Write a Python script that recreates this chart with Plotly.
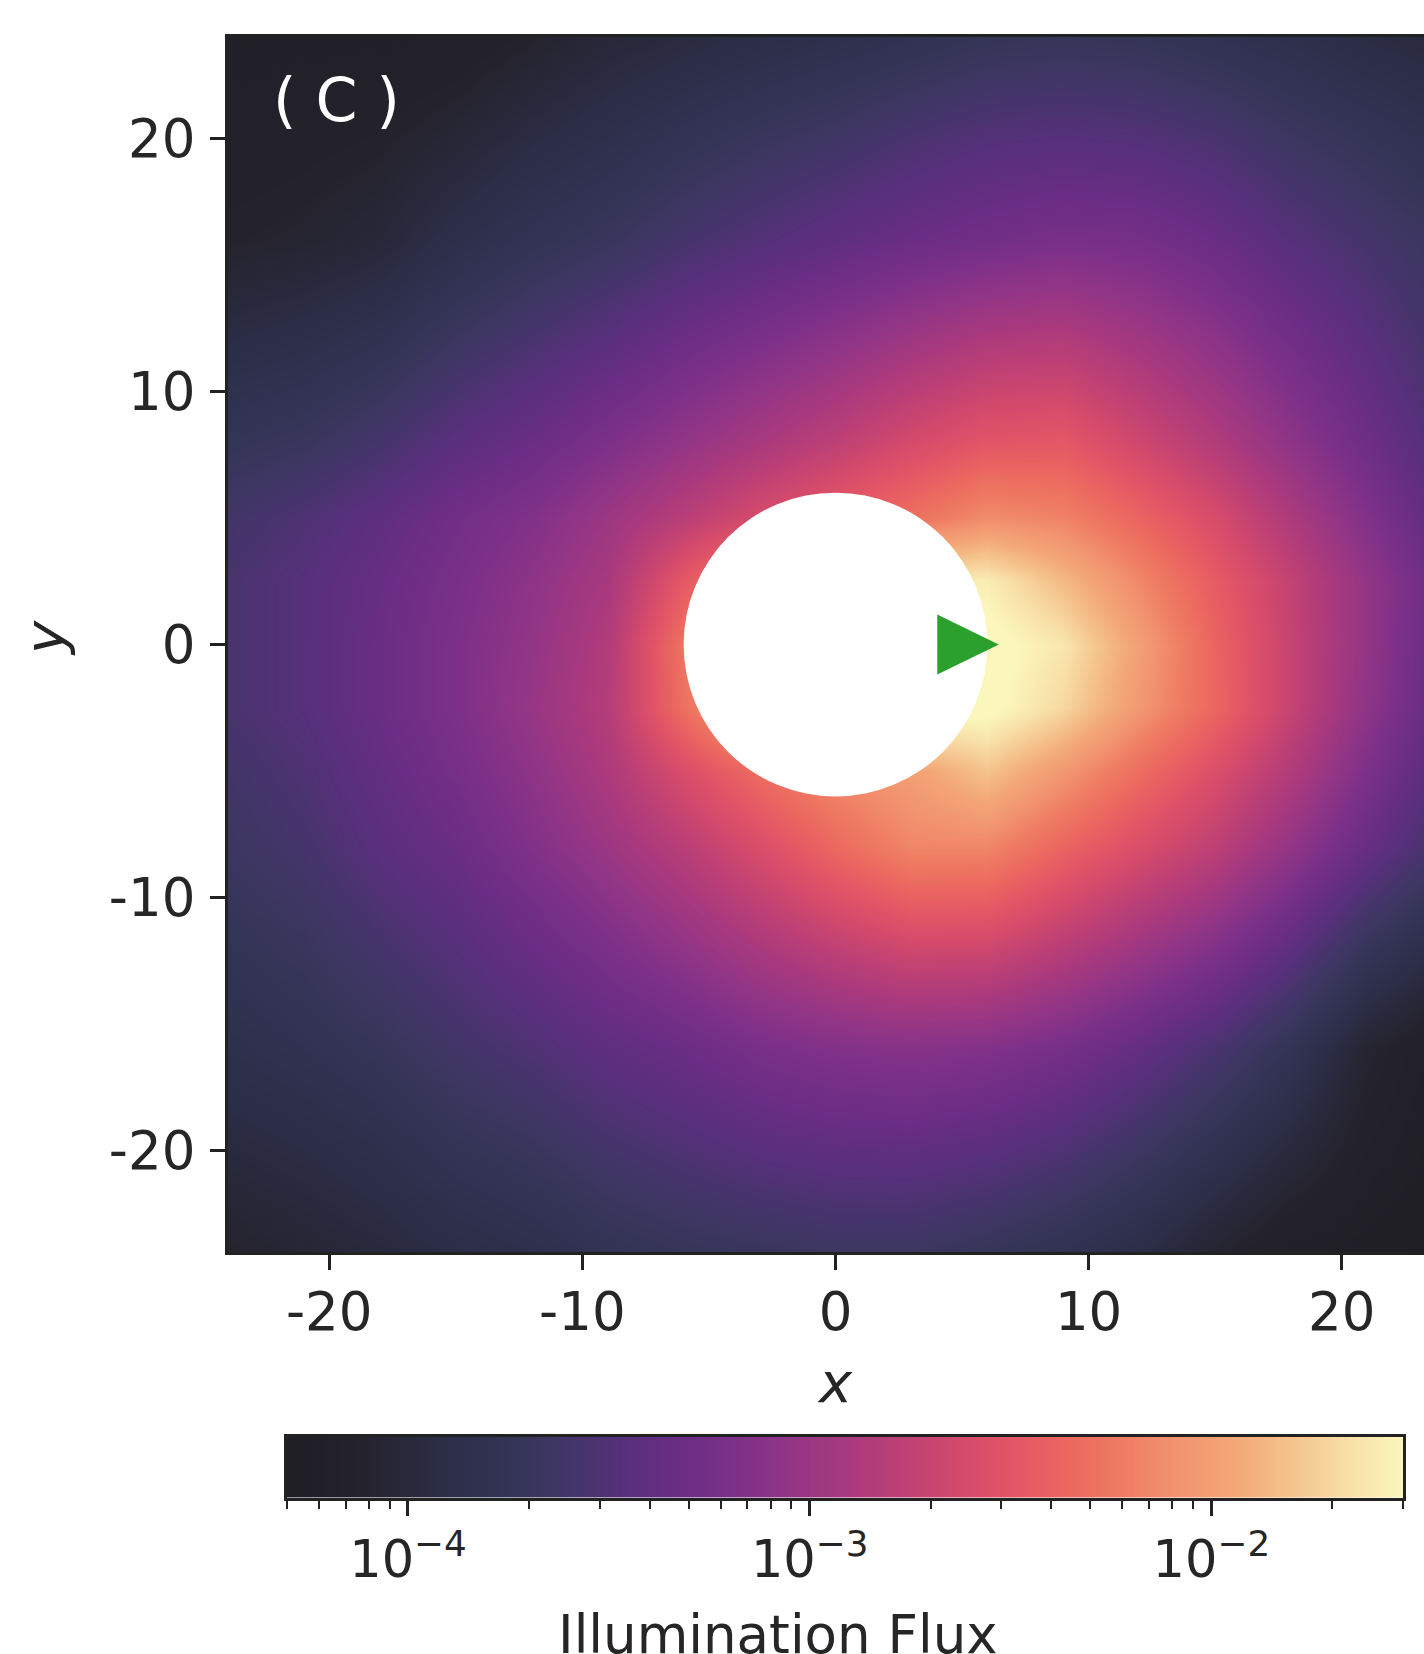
import numpy as np
import plotly.graph_objects as go

# ---------------- data ----------------
# grid nodes of the illumination map
x_nodes = [-24, -21, -18, -15, -12, -9, -6, -3, 0, 3, 6, 9, 12, 15, 18, 21, 24]
y_nodes = [24, 20, 16, 12, 8, 5, 2.5, 0, -2.5, -5, -8, -12, -16, -20, -24]

# log10(illumination flux), one row per y node (top to bottom)
row_y24 = [-4.24, -4.22, -4.22, -4.19, -4.11, -4.02, -3.97, -3.91, -3.86, -3.80, -3.74, -3.72, -3.74, -3.80, -3.86, -3.94, -3.99]
row_y20 = [-4.17, -4.15, -4.12, -4.04, -3.94, -3.86, -3.77, -3.69, -3.63, -3.55, -3.49, -3.47, -3.49, -3.55, -3.66, -3.74, -3.83]
row_y16 = [-4.11, -4.08, -4.02, -3.88, -3.77, -3.69, -3.58, -3.49, -3.41, -3.33, -3.27, -3.22, -3.24, -3.33, -3.47, -3.58, -3.69]
row_y12 = [-3.93, -3.88, -3.80, -3.66, -3.55, -3.44, -3.31, -3.20, -3.09, -2.97, -2.87, -2.84, -2.95, -3.09, -3.27, -3.44, -3.61]
row_y8 = [-3.74, -3.69, -3.58, -3.44, -3.33, -3.19, -3.05, -2.91, -2.77, -2.62, -2.50, -2.48, -2.66, -2.85, -3.08, -3.30, -3.52]
row_y5 = [-3.61, -3.52, -3.41, -3.27, -3.16, -2.99, -2.80, -2.60, -2.45, -2.30, -2.12, -2.18, -2.38, -2.60, -2.88, -3.16, -3.44]
row_y2p5 = [-3.55, -3.47, -3.35, -3.22, -3.08, -2.91, -2.47, -2.10, -1.85, -1.60, -1.58, -1.85, -2.15, -2.45, -2.74, -3.05, -3.35]
row_y0 = [-3.55, -3.47, -3.33, -3.19, -3.05, -2.85, -2.27, -1.80, -1.55, -1.45, -1.45, -1.62, -2.00, -2.38, -2.72, -3.05, -3.38]
row_ym2p5 = [-3.55, -3.47, -3.33, -3.19, -3.02, -2.83, -2.30, -1.85, -1.58, -1.45, -1.47, -1.70, -2.05, -2.37, -2.72, -3.08, -3.41]
row_ym5 = [-3.61, -3.52, -3.38, -3.24, -3.08, -2.88, -2.58, -2.32, -2.12, -2.00, -1.80, -2.05, -2.32, -2.57, -2.85, -3.19, -3.49]
row_ym8 = [-3.66, -3.58, -3.44, -3.33, -3.16, -2.99, -2.80, -2.58, -2.35, -2.16, -2.16, -2.38, -2.58, -2.77, -3.05, -3.35, -3.61]
row_ym12 = [-3.76, -3.69, -3.58, -3.47, -3.34, -3.20, -3.06, -2.90, -2.76, -2.65, -2.66, -2.81, -2.98, -3.16, -3.41, -3.72, -3.93]
row_ym16 = [-3.86, -3.80, -3.72, -3.61, -3.52, -3.41, -3.33, -3.22, -3.16, -3.13, -3.16, -3.24, -3.38, -3.55, -3.77, -4.08, -4.24]
row_ym20 = [-3.98, -3.93, -3.86, -3.76, -3.69, -3.59, -3.52, -3.45, -3.41, -3.40, -3.44, -3.52, -3.65, -3.81, -3.99, -4.17, -4.27]
row_ym24 = [-4.11, -4.05, -3.99, -3.91, -3.86, -3.77, -3.72, -3.69, -3.66, -3.66, -3.72, -3.80, -3.91, -4.08, -4.22, -4.27, -4.30]

log_flux_rows = [row_y24, row_y20, row_y16, row_y12, row_y8, row_y5, row_y2p5, row_y0,
                 row_ym2p5, row_ym5, row_ym8, row_ym12, row_ym16, row_ym20, row_ym24]

# colour range of the flux colour bar
flux_min = 5e-5
flux_max = 3e-2
cbar_major_ticks = [1e-4, 1e-3, 1e-2]
cbar_major_labels = ["10<sup>\u22124</sup>", "10<sup>\u22123</sup>", "10<sup>\u22122</sup>"]

# axes ticks and extents
axis_ticks = [-20, -10, 0, 10, 20]
axis_tick_labels = ["-20", "-10", "0", "10", "20"]
x_range = [-24.0, 23.25]
y_range = [-24.0, 24.0]

# obstacle (sphere) and source marker
sphere_radius = 6.0
source_x = 5.2
source_y = 0.0

panel_label = "( C )"

# ---------------- styling ----------------
FONT = "DejaVu Sans"
TXT = "#262626"
LINE = "#222222"
W, H = 1424, 1654

colorscale = [
    [0.00, "#1f1e24"], [0.07, "#24232d"], [0.14, "#2c2d47"], [0.20, "#343556"],
    [0.25, "#413667"], [0.30, "#56307a"], [0.35, "#6a2d85"], [0.40, "#7c3088"],
    [0.45, "#923586"], [0.50, "#a8397e"], [0.55, "#bd4075"], [0.60, "#d2496c"],
    [0.65, "#e35566"], [0.70, "#eb6860"], [0.75, "#ef7c62"], [0.80, "#f29470"],
    [0.85, "#f3a878"], [0.90, "#f5c38d"], [0.95, "#f8dfa6"], [1.00, "#fbf6bc"],
]

zmin = np.log10(flux_min)
zmax = np.log10(flux_max)

y_asc = list(reversed(y_nodes))
z_asc = [list(r) for r in reversed(log_flux_rows)]

fig = go.Figure()

fig.add_trace(go.Heatmap(
    x=x_nodes, y=y_asc, z=z_asc, zmin=zmin, zmax=zmax,
    colorscale=colorscale, zsmooth="best", showscale=False,
    hoverinfo="skip", xaxis="x", yaxis="y",
))

# colour bar drawn as its own strip on a log axis
cb_x = np.logspace(zmin, zmax, 400)
fig.add_trace(go.Heatmap(
    x=cb_x, y=[0.5], z=[np.log10(cb_x)], zmin=zmin, zmax=zmax,
    colorscale=colorscale, zsmooth="best", showscale=False,
    hoverinfo="skip", xaxis="x2", yaxis="y2",
))

# main plot geometry (pixels)
px_left, px_top, px_bottom = 228, 37, 1252
cb_left, cb_right, cb_top, cb_bottom = 287, 1403, 1436.6, 1497.8

minor_vals = []
for dec in [1e-5, 1e-4, 1e-3, 1e-2]:
    for m in range(2, 10):
        v = m * dec
        if flux_min * 0.999 <= v <= flux_max * 1.001 and v not in cbar_major_ticks:
            minor_vals.append(v)

fig.update_layout(
    width=W, height=H,
    margin=dict(l=0, r=0, t=0, b=0),
    paper_bgcolor="white", plot_bgcolor="white",
    font=dict(family=FONT, color=TXT),
    showlegend=False,
    xaxis=dict(
        domain=[px_left / W, 1.0], range=x_range,
        tickmode="array", tickvals=axis_ticks, ticktext=axis_tick_labels,
        ticks="outside", ticklen=15, tickwidth=3, tickcolor=LINE,
        tickfont=dict(size=53, color=TXT, family=FONT), ticklabelstandoff=-4,
        showline=True, linecolor=LINE, linewidth=3, mirror=True,
        showgrid=False, zeroline=False, anchor="y",
    ),
    yaxis=dict(
        domain=[(H - px_bottom) / H, (H - px_top) / H], range=y_range,
        tickmode="array", tickvals=axis_ticks, ticktext=axis_tick_labels,
        ticks="outside", ticklen=15, tickwidth=3, tickcolor=LINE,
        tickfont=dict(size=53, color=TXT, family=FONT), ticklabelstandoff=4,
        showline=True, linecolor=LINE, linewidth=3, mirror=False,
        showgrid=False, zeroline=False, anchor="x",
    ),
    xaxis2=dict(
        domain=[cb_left / W, cb_right / W], type="log",
        range=[zmin, zmax], anchor="y2",
        tickmode="array", tickvals=cbar_major_ticks, ticktext=cbar_major_labels,
        ticks="outside", ticklen=15, tickwidth=2.5, tickcolor=LINE,
        tickfont=dict(size=51, color=TXT, family=FONT), ticklabelstandoff=0,
        minor=dict(tickmode="array", tickvals=minor_vals, ticks="outside",
                   ticklen=8, tickwidth=2, tickcolor=LINE, showgrid=False),
        showline=True, linecolor=LINE, linewidth=3, mirror=True,
        showgrid=False, zeroline=False,
    ),
    yaxis2=dict(
        domain=[(H - cb_bottom) / H, (H - cb_top) / H], range=[0, 1],
        anchor="x2", showticklabels=False, ticks="",
        showline=True, linecolor=LINE, linewidth=3, mirror=True,
        showgrid=False, zeroline=False,
    ),
)

# sphere (white disk) and source marker
fig.add_shape(type="circle", xref="x", yref="y",
              x0=-sphere_radius, x1=sphere_radius, y0=-sphere_radius, y1=sphere_radius,
              fillcolor="white", line=dict(width=0), layer="above")
hw, hh = 1.12, 1.09
tri_path = (f"M {source_x + hw},{source_y} L {source_x - hw},{source_y + hh} "
            f"L {source_x - hw},{source_y - hh} Z")
fig.add_shape(type="path", xref="x", yref="y", path=tri_path,
              fillcolor="#2ca02c", line=dict(color="#2ca02c", width=3), layer="above")

# texts
fig.add_annotation(text=panel_label, xref="x domain", yref="y domain",
                   x=(336.5 - px_left) / (W - px_left), y=(px_bottom - 100) / (px_bottom - px_top),
                   showarrow=False, font=dict(size=60, color="white", family=FONT),
                   xanchor="center", yanchor="middle")
fig.add_annotation(text="<i>x</i>", xref="paper", yref="paper",
                   x=835.5 / W, y=1 - 1382 / H, showarrow=False,
                   font=dict(size=56, color=TXT, family=FONT), xanchor="center", yanchor="middle")
fig.add_annotation(text="<i>y</i>", xref="paper", yref="paper",
                   x=45 / W, y=1 - 638 / H, showarrow=False, textangle=-90,
                   font=dict(size=56, color=TXT, family=FONT), xanchor="center", yanchor="middle")
fig.add_annotation(text="Illumination Flux", xref="paper", yref="paper",
                   x=778 / W, y=1 - 1634 / H, showarrow=False,
                   font=dict(size=53, color=TXT, family=FONT), xanchor="center", yanchor="middle")

fig.write_html("out.html", config={"displayModeBar": False},
               post_script="document.body.style.margin='0';document.body.style.overflow='hidden';")
